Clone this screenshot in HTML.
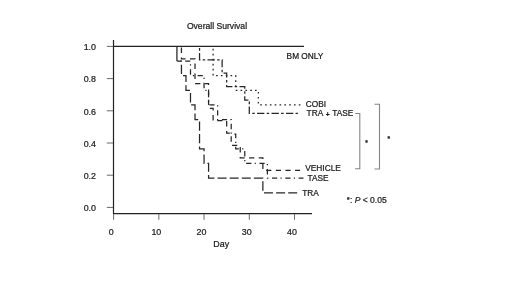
<!DOCTYPE html>
<html><head><meta charset="utf-8"><title>Overall Survival</title>
<style>html,body{margin:0;padding:0;background:#fff;width:520px;height:292px;overflow:hidden}svg{display:block}</style>
</head><body>
<svg width="520" height="292" viewBox="0 0 520 292">
<rect width="520" height="292" fill="#fff"/>
<path d="M113.5 40V213.6H312" stroke="#222" stroke-width="1.2" fill="none"/>
<path d="M106.8 207.40H113M106.8 175.20H113M106.8 143.00H113M106.8 110.80H113M106.8 78.60H113M106.8 46.40H113M113.60 214V219.8M158.83 214V219.8M204.06 214V219.8M249.29 214V219.8M294.52 214V219.8" stroke="#6a6a6a" stroke-width="1" fill="none"/>
<path d="M113.60 46.40H304" stroke="#222" stroke-width="1.3" fill="none"/>
<path d="M176.92 61.04L181.44 61.04L181.44 61.47M181.44 64.69L181.44 74.05M182.99 75.67L185.97 75.67L185.97 81.93M185.97 85.16L185.97 90.31L190.01 90.31M190.49 93.04L190.49 102.40M191.14 104.95L195.01 104.95L195.01 110.28M195.01 113.50L195.01 119.58L198.17 119.58M199.54 121.38L199.54 130.74M199.54 133.97L199.54 143.33M199.54 146.55L199.54 148.85L204.06 148.85L204.06 151.21M204.06 154.43L204.06 163.49L204.35 163.49M207.45 163.49L208.58 163.49L208.58 171.67M208.58 174.89L208.58 178.13L214.47 178.13M217.57 178.13L226.57 178.13M229.67 178.13L238.67 178.13M241.77 178.13L250.77 178.13M253.87 178.13L262.86 178.13L262.86 178.14M262.86 181.37L262.86 190.73M264.00 192.76L273.00 192.76M276.10 192.76L285.10 192.76M288.20 192.76L297.20 192.76" stroke="#262626" stroke-width="1.25" fill="none"/>
<path d="M213.11 48.69L213.11 50.40M213.11 53.70L213.11 55.41M213.11 58.71L213.11 60.43M213.11 63.72L213.11 65.44M213.11 68.74L213.11 70.45M213.11 73.75L213.11 75.47M216.08 75.67L217.73 75.67M220.90 75.67L222.55 75.67M225.72 75.67L227.37 75.67M230.54 75.67L232.19 75.67M235.36 75.67L235.72 75.67L235.72 77.01M235.72 80.31L235.72 82.02M235.72 85.32L235.72 87.04M235.74 90.31L237.39 90.31M240.56 90.31L242.21 90.31M245.38 90.31L247.03 90.31M250.20 90.31L251.85 90.31M255.02 90.31L256.67 90.31M258.34 91.88L258.34 93.59M258.34 96.89L258.34 98.61M258.34 101.90L258.34 103.62M260.23 104.95L261.88 104.95M265.05 104.95L266.70 104.95M269.87 104.95L271.52 104.95M274.69 104.95L276.34 104.95M279.51 104.95L281.16 104.95M284.33 104.95L285.98 104.95M289.15 104.95L290.80 104.95M293.97 104.95L295.62 104.95M298.79 104.95L300.44 104.95" stroke="#262626" stroke-width="1.25" fill="none"/>
<path d="M199.54 48.08L199.54 50.68M199.54 53.07L199.54 59.82L200.40 59.82M202.70 59.82L205.20 59.82M207.50 59.82L214.85 59.82M217.15 59.82L219.65 59.82M221.95 59.82L222.15 59.82L222.15 67.25M222.15 69.65L222.15 72.25M223.50 73.23L226.67 73.23L226.67 77.58M226.67 79.97L226.67 82.57M226.67 84.96L226.67 86.65L232.40 86.65M234.70 86.65L237.20 86.65M239.50 86.65L244.77 86.65L244.77 88.82M244.77 91.21L244.77 93.81M244.77 96.20L244.77 100.07L248.40 100.07M249.29 101.53L249.29 104.13M249.29 106.53L249.29 113.48L249.95 113.48M252.25 113.48L254.75 113.48M257.05 113.48L264.40 113.48M266.70 113.48L269.20 113.48M271.50 113.48L278.85 113.48M281.15 113.48L283.65 113.48M285.95 113.48L293.30 113.48M295.60 113.48L297.90 113.48" stroke="#262626" stroke-width="1.25" fill="none"/>
<path d="M181.44 47.58L181.44 52.99M181.44 57.62L181.44 58.78L185.52 58.78M189.97 58.78L195.01 58.78L195.01 58.95M195.01 63.58L195.01 68.99M195.01 73.62L195.01 79.02M195.11 83.55L200.31 83.55M204.76 83.55L208.58 83.55L208.58 84.98M208.58 89.61L208.58 95.02M208.58 99.65L208.58 105.06M209.89 108.32L213.11 108.32L213.11 110.39M213.11 115.02L213.11 120.42M217.28 120.71L222.48 120.71M226.67 120.98L226.67 126.38M226.67 131.01L226.67 133.09L229.87 133.09M231.20 136.34L231.20 141.75M232.07 145.48L237.27 145.48M240.24 147.01L240.24 152.42M240.24 157.04L240.24 157.86L244.66 157.86M249.11 157.86L254.31 157.86M258.76 157.86L262.86 157.86L262.86 159.00M262.86 163.63L262.86 169.04M266.15 170.25L271.35 170.25M275.80 170.25L281.00 170.25M285.45 170.25L290.65 170.25M295.10 170.25L300.10 170.25" stroke="#262626" stroke-width="1.25" fill="none"/>
<path d="M176.92 61.04L176.99 61.04M180.29 61.04L181.49 61.04M185.09 61.04L190.29 61.04M190.49 64.26L190.49 65.50M190.49 69.25L190.49 74.66M192.81 75.67L194.01 75.67M197.61 75.67L202.81 75.67M204.06 77.81L204.06 79.06M204.06 82.80L204.06 88.21M205.34 90.31L206.54 90.31M208.58 91.93L208.58 97.34M208.58 100.77L208.58 102.02M209.37 104.95L214.57 104.95M217.63 105.19L217.63 106.44M217.63 110.19L217.63 115.59M217.63 119.03L217.63 119.58L218.29 119.58M221.89 119.58L227.09 119.58M230.39 119.58L231.20 119.58L231.20 119.99M231.20 123.74L231.20 129.15M231.20 132.58L231.20 133.83M234.42 134.22L235.72 134.22L235.72 138.27M235.72 141.71L235.72 142.95M235.72 146.70L235.72 148.85L238.85 148.85M242.15 148.85L243.35 148.85M244.77 151.12L244.77 156.53M244.77 159.96L244.77 161.21M246.17 163.49L251.37 163.49M254.67 163.49L255.87 163.49M259.47 163.49L264.67 163.49M267.38 164.11L267.38 165.35M267.38 169.10L267.38 174.51M267.38 177.94L267.38 178.13L268.40 178.13M272.00 178.13L277.20 178.13M280.50 178.13L281.70 178.13M285.30 178.13L290.50 178.13M293.80 178.13L295.00 178.13M298.60 178.13L303.50 178.13" stroke="#262626" stroke-width="1.25" fill="none"/>
<path d="M176.92 46.40V61.04" stroke="#262626" stroke-width="1.25" fill="none"/>
<path d="M355.3 113.5H359.8V168.8H355M374.5 104.2H379.5V169H374.5" stroke="#858585" stroke-width="1.1" fill="none"/>
<g font-family="Liberation Sans, Arial, sans-serif" fill="#1a1a1a" stroke="#1a1a1a" stroke-width="0.22">
<text x="186.9" y="28.9" font-size="8.6">Overall Survival</text>
<text x="96.0" y="211.20000000000002" font-size="8.9" text-anchor="end">0.0</text>
<text x="96.0" y="179.0" font-size="8.9" text-anchor="end">0.2</text>
<text x="96.0" y="146.8" font-size="8.9" text-anchor="end">0.4</text>
<text x="96.0" y="114.6" font-size="8.9" text-anchor="end">0.6</text>
<text x="96.0" y="82.39999999999999" font-size="8.9" text-anchor="end">0.8</text>
<text x="96.0" y="50.2" font-size="8.9" text-anchor="end">1.0</text>
<text x="111.1" y="235.3" font-size="8.9" text-anchor="middle">0</text>
<text x="156.32999999999998" y="235.3" font-size="8.9" text-anchor="middle">10</text>
<text x="201.56" y="235.3" font-size="8.9" text-anchor="middle">20</text>
<text x="246.79" y="235.3" font-size="8.9" text-anchor="middle">30</text>
<text x="292.02" y="235.3" font-size="8.9" text-anchor="middle">40</text>
<text x="213.3" y="246.6" font-size="8.9">Day</text>
<text x="286.6" y="58.7" font-size="8.3">BM ONLY</text>
<text x="305.8" y="106.6" font-size="8.3">COBI</text>
<text x="306.6" y="116.4" font-size="8.3">TRA</text>
<text x="332.3" y="116.4" font-size="8.3">TASE</text>
<text x="305.3" y="171.2" font-size="8.3">VEHICLE</text>
<text x="307.6" y="181.0" font-size="8.3">TASE</text>
<text x="302.3" y="195.6" font-size="8.3">TRA</text>
<text x="327.8" y="116.8" font-size="6.6" font-weight="bold" text-anchor="middle">+</text>
<text x="365.3" y="145.3" font-size="6.5" font-weight="bold">*</text>
<text x="387.5" y="141.0" font-size="6.5" font-weight="bold">*</text>
<text x="346.9" y="201.9" font-size="6.5" font-weight="bold">*</text>
<text x="350.0" y="202.7" font-size="8.5">: <tspan font-style="italic">P</tspan> &lt; 0.05</text>
</g>
</svg>
</body></html>
